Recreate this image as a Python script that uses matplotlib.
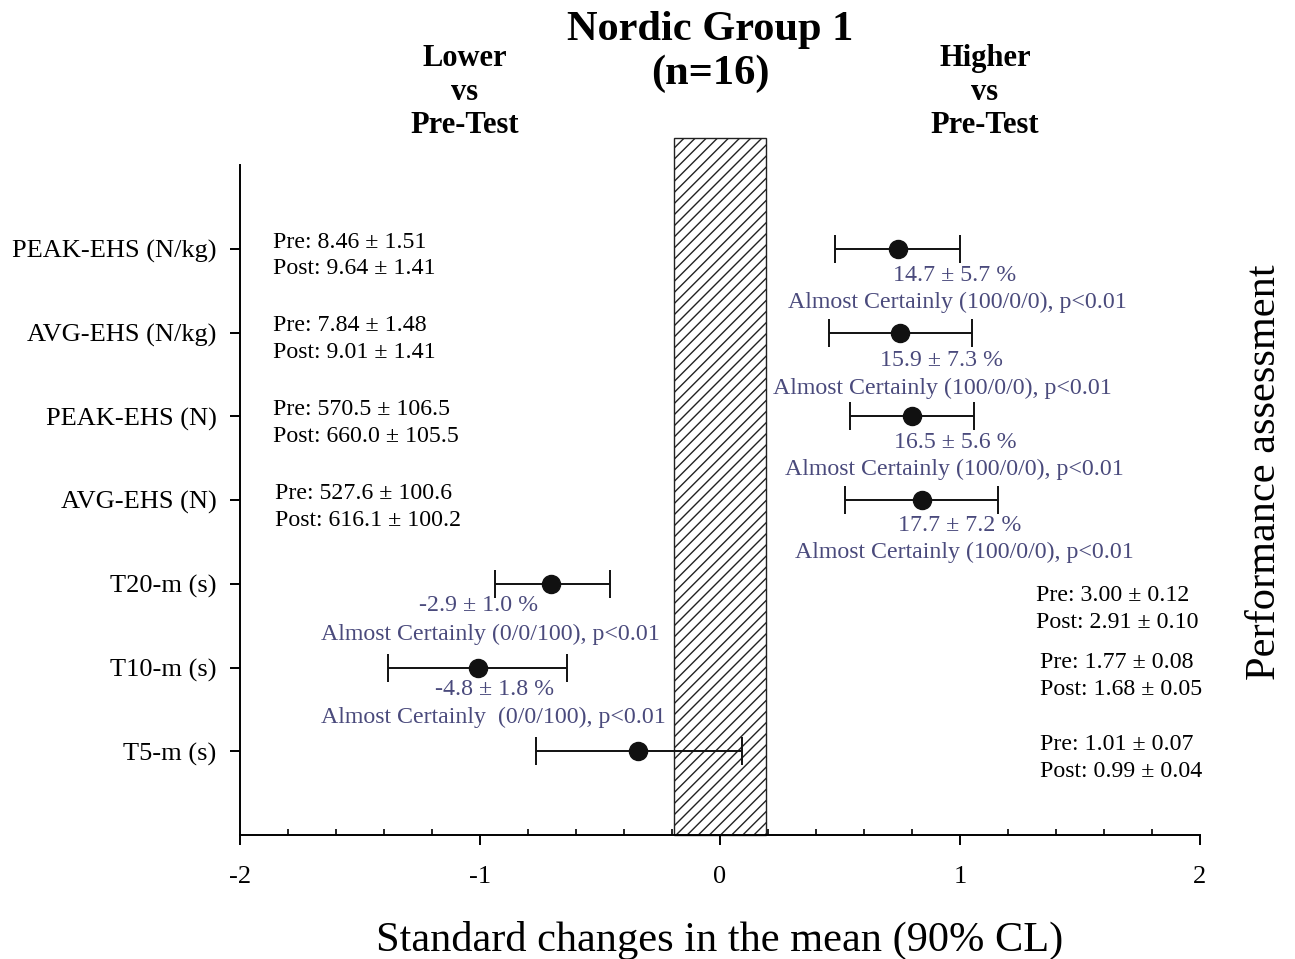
import numpy as np
import matplotlib.pyplot as plt
from matplotlib.ticker import MultipleLocator

plt.rcParams['font.family'] = ['Liberation Serif', 'DejaVu Serif']
plt.rcParams['hatch.linewidth'] = 1.0

# datos
categorias = ['PEAK-EHS (N/kg)', 'AVG-EHS (N/kg)', 'PEAK-EHS (N)', 'AVG-EHS (N)',
              'T20-m (s)', 'T10-m (s)', 'T5-m (s)']
medias = [0.742, 0.75, 0.80, 0.842, -0.704, -1.008, -0.342]
ic_bajo = [0.479, 0.454, 0.542, 0.521, -0.9375, -1.383, -0.767]
ic_alto = [1.00, 1.05, 1.058, 1.158, -0.458, -0.6375, 0.092]

cambio_pct = ['14.7 ± 5.7 %', '15.9 ± 7.3 %', '16.5 ± 5.6 %', '17.7 ± 7.2 %',
              '-2.9 ± 1.0 %', '-4.8 ± 1.8 %', None]
inferencia = ['Almost Certainly (100/0/0), p<0.01', 'Almost Certainly (100/0/0), p<0.01',
              'Almost Certainly (100/0/0), p<0.01', 'Almost Certainly (100/0/0), p<0.01',
              'Almost Certainly (0/0/100), p<0.01', 'Almost Certainly  (0/0/100), p<0.01', None]
pre_txt = ['Pre: 8.46 ± 1.51', 'Pre: 7.84 ± 1.48', 'Pre: 570.5 ± 106.5', 'Pre: 527.6 ± 100.6',
           'Pre: 3.00 ± 0.12', 'Pre: 1.77 ± 0.08', 'Pre: 1.01 ± 0.07']
post_txt = ['Post: 9.64 ± 1.41', 'Post: 9.01 ± 1.41', 'Post: 660.0 ± 105.5', 'Post: 616.1 ± 100.2',
            'Post: 2.91 ± 0.10', 'Post: 1.68 ± 0.05', 'Post: 0.99 ± 0.04']

zona_trivial = 0.19

# posiciones de los textos (coordenadas de datos)
x_pct = [0.979, 0.925, 0.979, 1.0, -1.004, -0.938]
x_inf = [0.987, 0.925, 0.975, 1.017, -0.958, -0.946]
dy_pct = [-0.32, -0.33, -0.31, -0.30, -0.26, -0.26]
dy_inf = [-0.64, -0.67, -0.64, -0.62, -0.60, -0.60]
x_prepost = [-1.862, -1.862, -1.862, -1.854, 1.317, 1.333, 1.333]
dy_pre = [0.08, 0.08, 0.08, 0.08, -0.14, 0.06, 0.08]
dy_post = [-0.24, -0.24, -0.24, -0.24, -0.46, -0.26, -0.24]

color_txt = '#4a4a7c'

fig = plt.figure(figsize=(12.95, 9.59), dpi=100)
ax = fig.add_axes([240 / 1295, 1 - 835 / 959, 960 / 1295, 670 / 959])

ypos = np.arange(len(categorias), 0, -1)

ax.bar(0, 8.32, width=2 * zona_trivial, bottom=0, facecolor='white', edgecolor='#222222',
       hatch='///', linewidth=1.0, clip_on=False, zorder=1)

medias = np.array(medias)
err = [medias - np.array(ic_bajo), np.array(ic_alto) - medias]
ax.errorbar(medias, ypos, xerr=err, fmt='o', color='#111111', ecolor='#111111',
            markersize=13, capsize=10, elinewidth=1.4, capthick=1.4, zorder=3)

for i, y in enumerate(ypos):
    if cambio_pct[i] is not None:
        ax.text(x_pct[i], y + dy_pct[i], cambio_pct[i], ha='center', va='center',
                fontsize=17.2, color=color_txt)
        ax.text(x_inf[i], y + dy_inf[i], inferencia[i], ha='center', va='center',
                fontsize=17.2, color=color_txt)
    ax.text(x_prepost[i], y + dy_pre[i], pre_txt[i], ha='left', va='center', fontsize=17.2)
    ax.text(x_prepost[i], y + dy_post[i], post_txt[i], ha='left', va='center', fontsize=17.2)

ax.set_xlim(-2, 2)
ax.set_ylim(0, 8)
ax.set_yticks(ypos)
ax.set_yticklabels(categorias, fontsize=19)
ax.set_xticks([-2, -1, 0, 1, 2])
ax.set_xticklabels(['-2', '-1', '0', '1', '2'], fontsize=19)
ax.xaxis.set_minor_locator(MultipleLocator(0.2))
ax.tick_params(axis='x', which='major', direction='out', length=7, width=1.4, pad=15)
ax.tick_params(axis='x', which='minor', direction='in', length=4, width=1.2)
ax.tick_params(axis='y', direction='out', length=7, width=1.4, pad=10)

for lado in ['top', 'right']:
    ax.spines[lado].set_visible(False)
for lado in ['left', 'bottom']:
    ax.spines[lado].set_linewidth(1.4)

ax.set_xlabel('Standard changes in the mean (90% CL)', fontsize=30.5, labelpad=24)

fig.text(710 / 1295, 1 - 52 / 959, 'Nordic Group 1\n(n=16)', ha='center', va='center',
         fontsize=30.5, fontweight='bold', linespacing=1.22)
fig.text(465 / 1295, 1 - 92 / 959, 'Lower\nvs\nPre-Test', ha='center', va='center',
         fontsize=22, fontweight='bold', linespacing=1.2)
fig.text(985 / 1295, 1 - 92 / 959, 'Higher\nvs\nPre-Test', ha='center', va='center',
         fontsize=22, fontweight='bold', linespacing=1.2)
fig.text(1265 / 1295, 1 - 472 / 959, 'Performance assessment', ha='center', va='center',
         rotation=90, fontsize=30.5)

plt.savefig('out.png', dpi=100)
